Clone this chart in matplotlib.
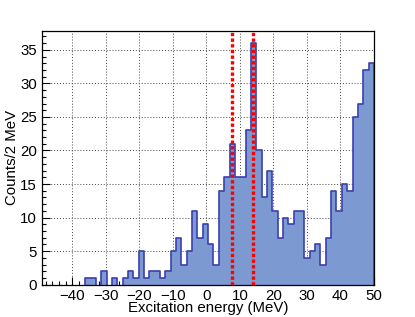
import numpy as np
import matplotlib
matplotlib.use("Agg")
import matplotlib.pyplot as plt
from matplotlib.ticker import MultipleLocator

# Histogram: 62 bins from -49 to 50 MeV
x_min, x_max, n_bins = -49.0, 50.0, 62
counts = [0, 0, 0, 0, 0, 0, 0, 0, 1, 1,
          0, 2, 0, 1, 0, 1, 2, 1, 5, 1,
          2, 2, 1, 2, 5, 7, 3, 5, 11, 7,
          9, 6, 3, 14, 16, 21, 16, 16, 23, 36,
          20, 13, 17, 11, 7, 10, 9, 11, 11, 4,
          5, 6, 3, 7, 14, 11, 15, 14, 25, 27,
          32, 33]
red_lines = [7.7, 14.0]
x_ticks = [-40, -30, -20, -10, 0, 10, 20, 30, 40, 50]
y_ticks = [0, 5, 10, 15, 20, 25, 30, 35]

edges = np.linspace(x_min, x_max, n_bins + 1)

plt.rcParams['font.family'] = ['Liberation Sans', 'DejaVu Sans']
fig = plt.figure(figsize=(4.15, 3.17), dpi=100)
ax = fig.add_axes([0.102, 0.102, 0.799, 0.800])

ax.stairs(counts, edges, fill=True, color='#7d99d1', zorder=2)

# outline: step line, without the zero-level runs along the axis
ox, oy = [], []
prev = 0
for i, c in enumerate(counts):
    if c == 0:
        if prev != 0:
            ox += [edges[i], np.nan]
            oy += [0, np.nan]
    else:
        if prev == 0:
            ox += [edges[i]]
            oy += [0]
        ox += [edges[i], edges[i + 1]]
        oy += [c, c]
    prev = c
if prev != 0:
    ox += [edges[-1]]
    oy += [0]
ax.plot(ox, oy, color='#3a3fb0', lw=1.2, zorder=2.2)

for xv in red_lines:
    ax.axvline(xv, color='#ff0000', lw=2.4, linestyle=(0, (1, 0.7)), zorder=4)

ax.set_xlim(x_min, x_max)
ax.set_ylim(0, 1.05 * max(counts))
ax.set_xticks(x_ticks)
ax.set_yticks(y_ticks)
ax.xaxis.set_minor_locator(MultipleLocator(2))
ax.yaxis.set_minor_locator(MultipleLocator(1))
ax.tick_params(which='both', direction='in', top=False, right=False,
               labelsize=10.8, colors='black')
ax.tick_params(which='major', length=6, width=0.8)
ax.tick_params(axis='x', which='major', pad=3)
ax.tick_params(axis='y', which='major', pad=4)
ax.tick_params(which='minor', length=3, width=0.8)
ax.set_axisbelow(True)
ax.grid(True, which='major', color='#444444', lw=0.7, linestyle=(0, (1, 2)))
for s in ax.spines.values():
    s.set_linewidth(0.9)
    s.set_zorder(3)

ax.set_xlabel('Excitation energy (MeV)', fontsize=10.8, labelpad=-1)
ax.set_ylabel('Counts/2 MeV', fontsize=10.8, labelpad=0.5)

fig.savefig('out.png', dpi=100)
